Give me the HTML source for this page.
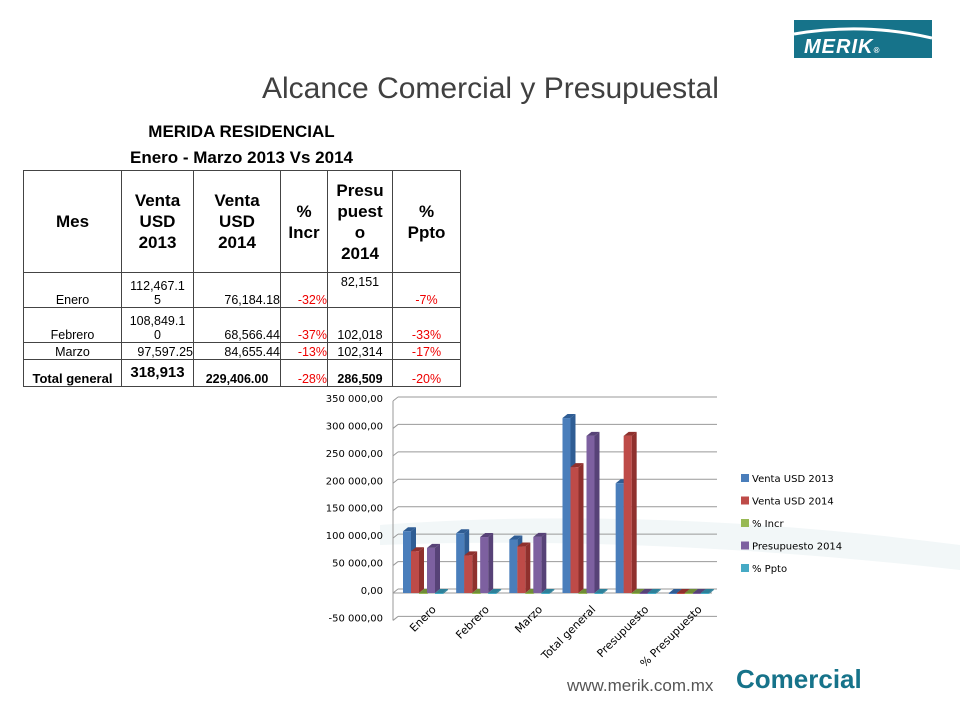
<!DOCTYPE html>
<html><head><meta charset="utf-8"><style>
body{margin:0;width:960px;height:720px;background:#fff;position:relative;overflow:hidden;font-family:"Liberation Sans",sans-serif}
.abs{position:absolute}
table{border-collapse:collapse;position:absolute;left:23px;top:170px;table-layout:fixed;width:437px;font-family:"Liberation Sans",sans-serif}
td,th{border:1px solid #444;padding:0;font-size:12.5px;color:#000;overflow:visible;white-space:nowrap}
th{font-weight:bold;font-size:17px;line-height:21px;text-align:center}
td{text-align:right;vertical-align:bottom;line-height:14px}
.r{color:#e00}
</style></head><body>
<svg class="abs" style="left:0;top:0" width="960" height="720">
<path d="M380 525 Q650 505 960 545 L960 570 Q650 535 380 545Z" fill="#f2f7f8"/>
</svg>
<div class="abs" style="left:794px;top:20px;width:138px;height:38px;background:#16738a">
<svg width="138" height="38" style="position:absolute;left:0;top:0"><path d="M0 14 Q70 2 138 18" stroke="#fff" stroke-width="3" fill="none"/></svg>
<div class="abs" style="left:10px;top:16px;color:#fff;font-weight:bold;font-style:italic;font-size:20px;letter-spacing:1px">MERIK<span style="font-size:8px">®</span></div>
</div>
<div class="abs" style="left:262px;top:72px;font-size:30px;color:#404040">Alcance Comercial y Presupuestal</div>
<div class="abs" style="left:23px;width:437px;top:119px;text-align:center;font-weight:bold;font-size:17px;line-height:26px">MERIDA RESIDENCIAL<br>Enero - Marzo 2013 Vs 2014</div>
<table>
<colgroup><col style="width:98px"><col style="width:72px"><col style="width:87px"><col style="width:47px"><col style="width:65px"><col style="width:68px"></colgroup>
<tr style="height:102px"><th>Mes</th><th>Venta<br>USD<br>2013</th><th>Venta<br>USD<br>2014</th><th>%<br>Incr</th><th>Presu<br>puest<br>o<br>2014</th><th>%<br>Ppto</th></tr>
<tr style="height:35px"><td style="text-align:center">Enero</td><td style="text-align:center">112,467.1<br>5</td><td>76,184.18</td><td class="r">-32%</td><td style="vertical-align:top;text-align:center;padding-top:2px">82,151</td><td class="r" style="text-align:center">-7%</td></tr>
<tr style="height:35px"><td style="text-align:center">Febrero</td><td style="text-align:center">108,849.1<br>0</td><td>68,566.44</td><td class="r">-37%</td><td style="text-align:center">102,018</td><td class="r" style="text-align:center">-33%</td></tr>
<tr style="height:17px"><td style="text-align:center">Marzo</td><td>97,597.25</td><td>84,655.44</td><td class="r">-13%</td><td style="text-align:center">102,314</td><td class="r" style="text-align:center">-17%</td></tr>
<tr style="height:27px"><td style="font-weight:bold;font-size:13px;text-align:center">Total general</td><td style="font-weight:bold;font-size:15px;vertical-align:middle;text-align:center">318,913</td><td style="font-weight:bold;text-align:center">229,406.00</td><td class="r">-28%</td><td style="font-weight:bold;text-align:center">286,509</td><td class="r" style="text-align:center">-20%</td></tr>
</table>
<svg id="chart" class="abs" style="left:0;top:0" width="960" height="720"></svg>
<div class="abs" style="left:567px;top:676px;font-size:17px;color:#555">www.merik.com.mx</div>
<div class="abs" style="left:736px;top:664px;font-size:26px;font-weight:bold;color:#16738a">Comercial</div>
<script>
const categories=["Enero","Febrero","Marzo","Total general","Presupuesto","% Presupuesto"];
const seriesNames=["Venta USD 2013","Venta USD 2014","% Incr","Presupuesto 2014","% Ppto"];
const venta2013=[112467,108849,97597,318913,200000,0];
const venta2014=[76184,68566,84655,229406,286509,0];
const incr=[-0.32,-0.37,-0.13,-0.28,0,0];
const ppto2014=[82151,102018,102314,286509,0,0];
const pctPpto=[-0.07,-0.33,-0.17,-0.2,0,0];
const yTicks=[350000,300000,250000,200000,150000,100000,50000,0,-50000];
const yTickLabels=["350 000,00","300 000,00","250 000,00","200 000,00","150 000,00","100 000,00","50 000,00","0,00","-50 000,00"];
const colors=["#4a7ebb","#be4b48","#98b954","#7d60a0","#46aac5"];
const sides=["#2f5d94","#8f302d","#6f8c37","#574277","#2d8099"];
const svg=document.getElementById('chart');const NS="http://www.w3.org/2000/svg";
function mk(t,a){const e=document.createElementNS(NS,t);for(const k in a)e.setAttribute(k,a[k]);svg.appendChild(e);return e;}
const x0=393,x1=712,dx=5,dy=4;
function y(v){return 589-v*(192/350000);}
function cx(i){return x0+(x1-x0)/categories.length*i;}
yTicks.forEach((t,i)=>{
 const g=mk('line',{x1:x0+dx,x2:x1+dx,y1:y(t),y2:y(t),stroke:'#999'});
 
 const g2=mk('line',{x1:x0,x2:x0+dx,y1:y(t)+dy,y2:y(t),stroke:'#999'});
 
 const tx=mk('text',{x:383,y:y(t)+5,'text-anchor':'end','font-size':'10','font-family':'DejaVu Sans, sans-serif',fill:'#000'});
 tx.textContent=yTickLabels[i];
 
});
mk('line',{x1:x0,x2:x0,y1:y(350000)+dy,y2:y(-50000)+dy,stroke:'#999'});
mk('line',{x1:x0,x2:x1,y1:y(0)+dy,y2:y(0)+dy,stroke:'#999'});
const all=[venta2013,venta2014,incr,ppto2014,pctPpto];
const bw=8;
categories.forEach((c,i)=>{
 const base=cx(i)+10;
 all.forEach((s,k)=>{
  const v=s[i];const xb=base+k*bw;const yt=y(Math.max(v,0)),yb=y(Math.min(v,0));const h=Math.max(yb-yt,1);
  const side=mk('polygon',{points:`${xb+bw},${yt+dy} ${xb+bw+dx},${yt} ${xb+bw+dx},${yt+h} ${xb+bw},${yt+h+dy}`,fill:sides[k]});
  
  const top=mk('polygon',{points:`${xb},${yt+dy} ${xb+dx},${yt} ${xb+bw+dx},${yt} ${xb+bw},${yt+dy}`,fill:sides[k]});
  
  const r=mk('rect',{x:xb,y:yt+dy,width:bw,height:h,fill:colors[k]});
  
 });
 const lx=cx(i)+38,ly=y(-50000)-12;
 const t=mk('text',{x:lx,y:ly,'text-anchor':'end','dominant-baseline':'hanging','font-size':'11','font-family':'DejaVu Sans, sans-serif',transform:`rotate(-45 ${lx} ${ly})`});
 t.textContent=c;
 
});
seriesNames.forEach((n,k)=>{
 const yy=478+k*22.5;
 const sw=mk('rect',{x:741,y:yy-4,width:8,height:8,fill:colors[k]});
 
 const t=mk('text',{x:752,y:yy+4,'font-size':'10','font-family':'DejaVu Sans, sans-serif'});
 t.textContent=n;
 
});
</script>
</body></html>
